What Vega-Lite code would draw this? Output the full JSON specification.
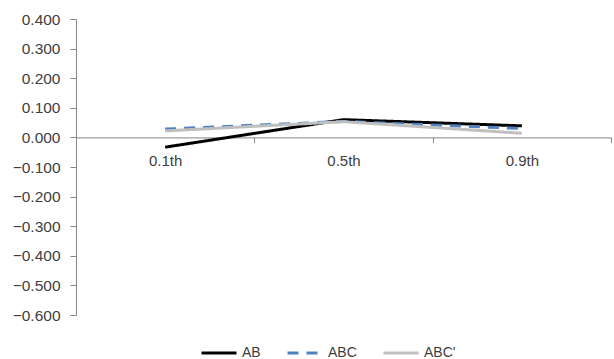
{
  "$schema": "https://vega.github.io/schema/vega-lite/v6.json",
  "width": 535,
  "height": 296,
  "autosize": {"type": "none"},
  "padding": {"left": 76, "top": 19, "right": 3, "bottom": 44},
  "background": "white",
  "config": {"view": {"stroke": null}, "font": "Liberation Sans"},
  "data": {
    "values": [
      {"quantile": "0.1th", "series": "AB", "value": -0.033},
      {"quantile": "0.5th", "series": "AB", "value": 0.060},
      {"quantile": "0.9th", "series": "AB", "value": 0.039},
      {"quantile": "0.1th", "series": "ABC", "value": 0.028},
      {"quantile": "0.5th", "series": "ABC", "value": 0.054},
      {"quantile": "0.9th", "series": "ABC", "value": 0.030},
      {"quantile": "0.1th", "series": "ABC'", "value": 0.022},
      {"quantile": "0.5th", "series": "ABC'", "value": 0.053},
      {"quantile": "0.9th", "series": "ABC'", "value": 0.014}
    ]
  },
  "mark": {"type": "line", "strokeWidth": 3, "strokeCap": "butt"},
  "encoding": {
    "x": {
      "field": "quantile",
      "type": "nominal",
      "sort": ["0.1th", "0.5th", "0.9th"],
      "scale": {"type": "band", "paddingInner": 0, "paddingOuter": 0},
      "axis": {
        "title": null,
        "labelAngle": 0,
        "offset": -177.6,
        "tickBand": "extent",
        "tickSize": 5,
        "tickColor": "#868686",
        "domainColor": "#868686",
        "labelPadding": 11,
        "labelFontSize": 15,
        "labelColor": "#404040",
        "grid": false
      }
    },
    "y": {
      "field": "value",
      "type": "quantitative",
      "scale": {"domain": [-0.6, 0.4], "nice": false, "zero": false},
      "axis": {
        "title": null,
        "values": [-0.6, -0.5, -0.4, -0.3, -0.2, -0.1, 0, 0.1, 0.2, 0.3, 0.4],
        "format": ".3f",
        "tickSize": 6,
        "tickColor": "#868686",
        "domainColor": "#868686",
        "labelPadding": 10,
        "labelFontSize": 15.5,
        "labelColor": "#404040",
        "grid": false
      }
    },
    "color": {
      "field": "series",
      "type": "nominal",
      "scale": {"domain": ["AB", "ABC", "ABC'"], "range": ["#000000", "#4f81bd", "#bfbfbf"]},
      "legend": {
        "orient": "none",
        "legendX": 124,
        "legendY": 315,
        "direction": "horizontal",
        "title": null,
        "symbolType": "stroke",
        "symbolSize": 1225,
        "symbolStrokeWidth": 3,
        "labelFontSize": 14,
        "labelColor": "#404040",
        "labelOffset": 4,
        "columnPadding": 20
      }
    },
    "strokeDash": {
      "field": "series",
      "type": "nominal",
      "scale": {"domain": ["AB", "ABC", "ABC'"], "range": [[1, 0], [11, 8], [1, 0]]},
      "legend": {
        "orient": "none",
        "legendX": 124,
        "legendY": 315,
        "direction": "horizontal",
        "title": null,
        "symbolType": "stroke",
        "symbolSize": 1225,
        "symbolStrokeWidth": 3,
        "labelFontSize": 14,
        "labelColor": "#404040",
        "labelOffset": 4,
        "columnPadding": 20
      }
    }
  }
}
